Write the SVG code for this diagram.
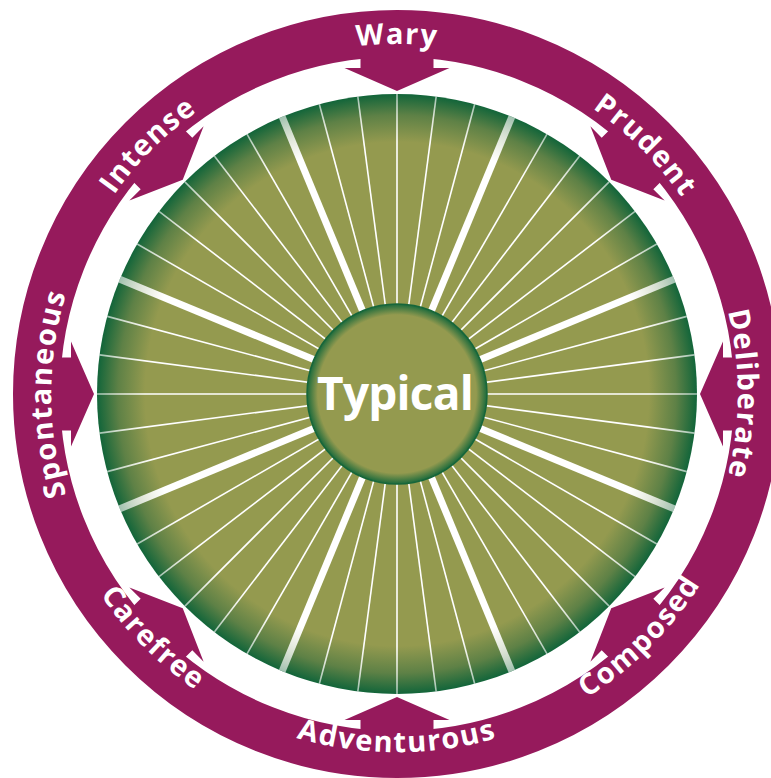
<svg xmlns="http://www.w3.org/2000/svg" xmlns:xlink="http://www.w3.org/1999/xlink" width="771" height="778" viewBox="0 0 771 778">
  <style>
    .ring { fill: none; stroke: #961A5C; stroke-width: 47; }
    .arrow { fill: #961A5C; }
    .lbl { fill: #FFFFFF; font-family: "Open Sans", "Liberation Sans", sans-serif; font-weight: 700; font-size: 29px; letter-spacing: 1.5px; }
    .center-lbl { fill: #FFFFFF; font-family: "Open Sans", "Liberation Sans", sans-serif; font-weight: 700; font-size: 46px; letter-spacing: -0.8px; }
    .thin { stroke: url(#lineGrad); stroke-width: 1.6; }
    .thick { stroke: url(#lineGrad); stroke-width: 7; }
  </style>
  <defs>
    <radialGradient id="wheelGrad" gradientUnits="userSpaceOnUse" cx="397" cy="394" r="300">
      <stop offset="0" stop-color="#949A4F"/>
      <stop offset="0.84" stop-color="#949A4F"/>
      <stop offset="0.93" stop-color="#5E8146"/>
      <stop offset="1" stop-color="#12653A"/>
    </radialGradient>
    <radialGradient id="lineGrad" gradientUnits="userSpaceOnUse" cx="397" cy="394" r="300">
      <stop offset="0" stop-color="#FFFFFF" stop-opacity="1"/>
      <stop offset="0.84" stop-color="#FFFFFF" stop-opacity="1"/>
      <stop offset="1" stop-color="#FFFFFF" stop-opacity="0.6"/>
    </radialGradient>
    <radialGradient id="hubGrad" gradientUnits="userSpaceOnUse" cx="397" cy="394" r="90">
      <stop offset="0" stop-color="#949A4F"/>
      <stop offset="0.88" stop-color="#949A4F"/>
      <stop offset="1" stop-color="#1A6A3C"/>
    </radialGradient>
    <path id="arrowShape" class="arrow" d="M360.5,45 L433.5,45 L433.5,68 L449.5,68 L397,91 L344.5,68 L360.5,68 Z"/>
    <line id="thinLine" class="thin" x1="397" y1="394" x2="397" y2="94"/>
    <line id="thickLine" class="thick" x1="397" y1="394" x2="397" y2="94"/>
    <path id="pWary" d="M52.3,333.2 A350,350 0 0,1 741.7,333.2"/>
    <path id="pPrudent" d="M198.5,110.6 A346,346 0 0,1 680.4,592.5"/>
    <path id="pDeliberate" d="M456.2,58.2 A341,341 0 0,1 456.2,729.8"/>
    <path id="pSpontaneous" d="M336.9,734.7 A346,346 0 0,1 336.9,53.3"/>
    <path id="pIntense" d="M113.6,592.5 A346,346 0 0,1 595.5,110.6"/>
    <path id="pAdventurous" d="M44.4,456.2 A358,358 0 0,0 749.6,456.2"/>
    <path id="pComposed" d="M191.7,687.3 A358,358 0 0,0 690.3,188.7"/>
    <path id="pCarefree" d="M103.7,188.7 A358,358 0 0,0 602.3,687.3"/>
  </defs>

  <rect width="771" height="778" fill="#FFFFFF"/>

  <g id="ring">
    <circle class="ring" cx="397" cy="394" r="360.5"/>
  </g>

  <g id="wheel">
    <circle cx="397" cy="394" r="300" fill="url(#wheelGrad)"/>
    <g id="spokes">
      <use xlink:href="#thinLine" transform="rotate(0 397 394)"/>
      <use xlink:href="#thinLine" transform="rotate(7.5 397 394)"/>
      <use xlink:href="#thinLine" transform="rotate(15 397 394)"/>
      <use xlink:href="#thickLine" transform="rotate(22.5 397 394)"/>
      <use xlink:href="#thinLine" transform="rotate(30 397 394)"/>
      <use xlink:href="#thinLine" transform="rotate(37.5 397 394)"/>
      <use xlink:href="#thinLine" transform="rotate(45 397 394)"/>
      <use xlink:href="#thinLine" transform="rotate(52.5 397 394)"/>
      <use xlink:href="#thinLine" transform="rotate(60 397 394)"/>
      <use xlink:href="#thickLine" transform="rotate(67.5 397 394)"/>
      <use xlink:href="#thinLine" transform="rotate(75 397 394)"/>
      <use xlink:href="#thinLine" transform="rotate(82.5 397 394)"/>
      <use xlink:href="#thinLine" transform="rotate(90 397 394)"/>
      <use xlink:href="#thinLine" transform="rotate(97.5 397 394)"/>
      <use xlink:href="#thinLine" transform="rotate(105 397 394)"/>
      <use xlink:href="#thickLine" transform="rotate(112.5 397 394)"/>
      <use xlink:href="#thinLine" transform="rotate(120 397 394)"/>
      <use xlink:href="#thinLine" transform="rotate(127.5 397 394)"/>
      <use xlink:href="#thinLine" transform="rotate(135 397 394)"/>
      <use xlink:href="#thinLine" transform="rotate(142.5 397 394)"/>
      <use xlink:href="#thinLine" transform="rotate(150 397 394)"/>
      <use xlink:href="#thickLine" transform="rotate(157.5 397 394)"/>
      <use xlink:href="#thinLine" transform="rotate(165 397 394)"/>
      <use xlink:href="#thinLine" transform="rotate(172.5 397 394)"/>
      <use xlink:href="#thinLine" transform="rotate(180 397 394)"/>
      <use xlink:href="#thinLine" transform="rotate(187.5 397 394)"/>
      <use xlink:href="#thinLine" transform="rotate(195 397 394)"/>
      <use xlink:href="#thickLine" transform="rotate(202.5 397 394)"/>
      <use xlink:href="#thinLine" transform="rotate(210 397 394)"/>
      <use xlink:href="#thinLine" transform="rotate(217.5 397 394)"/>
      <use xlink:href="#thinLine" transform="rotate(225 397 394)"/>
      <use xlink:href="#thinLine" transform="rotate(232.5 397 394)"/>
      <use xlink:href="#thinLine" transform="rotate(240 397 394)"/>
      <use xlink:href="#thickLine" transform="rotate(247.5 397 394)"/>
      <use xlink:href="#thinLine" transform="rotate(255 397 394)"/>
      <use xlink:href="#thinLine" transform="rotate(262.5 397 394)"/>
      <use xlink:href="#thinLine" transform="rotate(270 397 394)"/>
      <use xlink:href="#thinLine" transform="rotate(277.5 397 394)"/>
      <use xlink:href="#thinLine" transform="rotate(285 397 394)"/>
      <use xlink:href="#thickLine" transform="rotate(292.5 397 394)"/>
      <use xlink:href="#thinLine" transform="rotate(300 397 394)"/>
      <use xlink:href="#thinLine" transform="rotate(307.5 397 394)"/>
      <use xlink:href="#thinLine" transform="rotate(315 397 394)"/>
      <use xlink:href="#thinLine" transform="rotate(322.5 397 394)"/>
      <use xlink:href="#thinLine" transform="rotate(330 397 394)"/>
      <use xlink:href="#thickLine" transform="rotate(337.5 397 394)"/>
      <use xlink:href="#thinLine" transform="rotate(345 397 394)"/>
      <use xlink:href="#thinLine" transform="rotate(352.5 397 394)"/>
    </g>
  </g>

  <g id="connectors">
    <use xlink:href="#arrowShape" transform="rotate(0 397 394)"/>
    <use xlink:href="#arrowShape" transform="rotate(45 397 394)"/>
    <use xlink:href="#arrowShape" transform="rotate(90 397 394)"/>
    <use xlink:href="#arrowShape" transform="rotate(135 397 394)"/>
    <use xlink:href="#arrowShape" transform="rotate(180 397 394)"/>
    <use xlink:href="#arrowShape" transform="rotate(225 397 394)"/>
    <use xlink:href="#arrowShape" transform="rotate(270 397 394)"/>
    <use xlink:href="#arrowShape" transform="rotate(315 397 394)"/>
  </g>

  <g id="node-wary"><text class="lbl"><textPath xlink:href="#pWary" startOffset="50%" text-anchor="middle">Wary</textPath></text></g>
  <g id="node-prudent"><text class="lbl"><textPath xlink:href="#pPrudent" startOffset="50%" text-anchor="middle">Prudent</textPath></text></g>
  <g id="node-deliberate"><text class="lbl"><textPath xlink:href="#pDeliberate" startOffset="50%" text-anchor="middle">Deliberate</textPath></text></g>
  <g id="node-composed"><text class="lbl"><textPath xlink:href="#pComposed" startOffset="50%" text-anchor="middle">Composed</textPath></text></g>
  <g id="node-adventurous"><text class="lbl"><textPath xlink:href="#pAdventurous" startOffset="50%" text-anchor="middle">Adventurous</textPath></text></g>
  <g id="node-carefree"><text class="lbl"><textPath xlink:href="#pCarefree" startOffset="50%" text-anchor="middle">Carefree</textPath></text></g>
  <g id="node-spontaneous"><text class="lbl"><textPath xlink:href="#pSpontaneous" startOffset="50%" text-anchor="middle">Spontaneous</textPath></text></g>
  <g id="node-intense"><text class="lbl"><textPath xlink:href="#pIntense" startOffset="50%" text-anchor="middle">Intense</textPath></text></g>

  <g id="node-typical">
    <circle cx="397" cy="394" r="90" fill="url(#hubGrad)" stroke="#16663A" stroke-width="1.5"/>
    <text class="center-lbl" x="395" y="410" text-anchor="middle">Typical</text>
  </g>
</svg>
